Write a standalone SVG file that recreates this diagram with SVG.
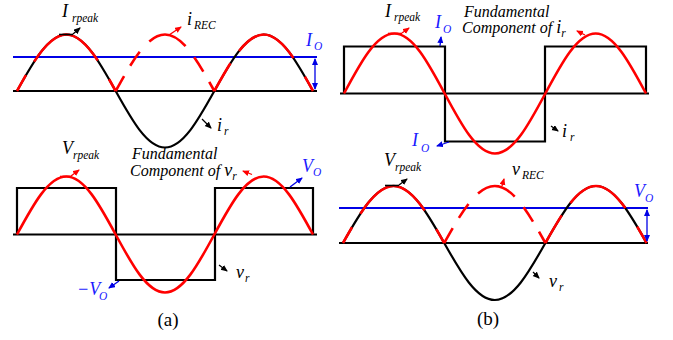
<svg xmlns="http://www.w3.org/2000/svg" width="673" height="340" viewBox="0 0 673 340">
<style>
.bg{fill:#ffffff}
.ax{fill:none;stroke:#000;stroke-width:2.2}
.bk{fill:none;stroke:#000;stroke-width:2.2;stroke-linejoin:miter}
.rd{fill:none;stroke:#ff0000;stroke-width:2.6}
.bl{fill:none;stroke:#0000e6;stroke-width:2.2}
.ar{fill:none;stroke-width:1.3}
.ak{stroke:#000}
.arr{stroke:#ff0000}
.ab{stroke:#0000e6}
.da{stroke-dasharray:18 16 86 22 16}
.db{stroke-dasharray:32 15 70 22 19}
.dm{stroke-dasharray:17 12 17 14 42 14 17 12 17}
text{font-family:'Liberation Serif','DejaVu Serif',serif;font-style:italic;font-size:16px;fill:#000}
.m{font-size:18px}
.s{font-size:11.5px}
.tb{fill:#1a1aff}
.cap{font-style:normal;font-size:19px}
</style>
<defs>
<marker id="mk" markerUnits="userSpaceOnUse" markerWidth="8" markerHeight="7" refX="6" refY="3" orient="auto-start-reverse"><path d="M0,0 L7,3 L0,6 z" fill="#000"/></marker>
<marker id="mr" markerUnits="userSpaceOnUse" markerWidth="8" markerHeight="7" refX="6" refY="3" orient="auto-start-reverse"><path d="M0,0 L7,3 L0,6 z" fill="#ff0000"/></marker>
<marker id="mb" markerUnits="userSpaceOnUse" markerWidth="8" markerHeight="7" refX="6" refY="3" orient="auto-start-reverse"><path d="M0,0 L7,3 L0,6 z" fill="#0000e6"/></marker>
</defs>
<rect class="bg" width="673" height="340"/>

<!-- Panel (a) top: i_r and i_REC -->
<g id="a-top">
<path class="bl" d="M13,57 H317"/>
<path class="ax" d="M13,91 H317"/>
<path class="bk" d="M17,91 C33.09,62.06 48.48,34.5 66.33,34.5 C84.18,34.5 99.57,62.06 115.67,91 C131.76,119.94 147.15,147.5 165,147.5 C182.85,147.5 198.24,119.94 214.33,91 C230.42,62.06 245.81,34.5 263.67,34.5 C281.52,34.5 296.91,62.06 313,91"/>
<path class="rd da" d="M17,91 C33.09,62.06 48.48,34.5 66.33,34.5 C84.18,34.5 99.57,62.06 115.67,91"/>
<path class="rd dm" d="M115.67,91 C131.76,62.06 147.15,34.5 165,34.5 C182.85,34.5 198.24,62.06 214.33,91"/>
<path class="rd db" d="M214.33,91 C230.42,62.06 245.81,34.5 263.67,34.5 C281.52,34.5 296.91,62.06 313,91"/>
<path class="ar ab" d="M315,59 V89" marker-start="url(#mb)" marker-end="url(#mb)"/>
<path class="bk" style="stroke-width:1.6" d="M59,34.5 H73"/>
<path class="ar ak" d="M73,34 L80,28" marker-end="url(#mk)"/>
<path class="ar arr" d="M169,35 L181,27" marker-end="url(#mr)"/>
<path class="ar ak" d="M202,119 L211,128" marker-end="url(#mk)"/>
<text class="m" x="62" y="17" font-family="Liberation Serif, serif">I<tspan class="s" x="72" y="22">rpeak</tspan></text>
<text class="m" x="187" y="25" font-family="Liberation Serif, serif">i<tspan class="s" x="194" y="29">REC</tspan></text>
<text class="m tb" x="306" y="46" font-family="Liberation Serif, serif">I<tspan class="s tb" x="314" y="50">O</tspan></text>
<text class="m" x="217" y="131" font-family="Liberation Serif, serif">i<tspan class="s" x="224" y="135">r</tspan></text>
</g>

<!-- Panel (a) bottom: v_r -->
<g id="a-bottom">
<path class="ax" d="M13,234.5 H317"/>
<path class="bk" d="M17,234.5 V188 H116 V280 H215 V188 H313 V234.5"/>
<path class="rd" d="M17,234.5 C33.09,204.79 48.48,176.5 66.33,176.5 C84.18,176.5 99.57,204.79 115.67,234.5 C131.76,264.21 147.15,292.5 165,292.5 C182.85,292.5 198.24,264.21 214.33,234.5 C230.42,204.79 245.81,176.5 263.67,176.5 C281.52,176.5 296.91,204.79 313,234.5"/>
<path class="rd" style="stroke-width:1.6" d="M60,176.5 H71"/>
<path class="ar arr" d="M71,176 L79,170" marker-end="url(#mr)"/>
<path class="ar arr" d="M252,174.5 L243,171" marker-end="url(#mr)"/>
<path class="ar ab" d="M290,187 L302,178" marker-end="url(#mb)"/>
<path class="ar ak" d="M219,265 L227,271" marker-end="url(#mk)"/>
<path class="ar ab" d="M119,281 L109,288" marker-end="url(#mb)"/>
<text class="m" x="62" y="154" font-family="Liberation Serif, serif">V<tspan class="s" x="73" y="159">rpeak</tspan></text>
<text x="132" y="159" font-family="Liberation Serif, serif">Fundamental</text>
<text x="130" y="176" font-family="Liberation Serif, serif">Component of <tspan class="m">v</tspan><tspan class="s" dy="4">r</tspan></text>
<text class="m tb" x="302" y="172" font-family="Liberation Serif, serif">V<tspan class="s tb" x="313" y="176">O</tspan></text>
<text class="m" x="236" y="278" font-family="Liberation Serif, serif">v<tspan class="s" x="245" y="282">r</tspan></text>
<text class="m tb" x="77" y="295" font-family="Liberation Serif, serif">−V<tspan class="s tb" x="99" y="300">O</tspan></text>
<text class="cap" x="168" y="326" text-anchor="middle" font-family="Liberation Serif, serif">(a)</text>
</g>

<!-- Panel (b) top: i_r square -->
<g id="b-top">
<path class="ax" d="M340,93.5 H649"/>
<path class="bk" d="M344,93.5 V46.5 H445 V141.5 H545 V46.5 H646 V93.5"/>
<path class="rd" d="M344,93.5 C360.41,62.76 376.12,33.5 394.33,33.5 C412.55,33.5 428.25,62.76 444.67,93.5 C461.08,124.24 476.79,153.5 495,153.5 C513.21,153.5 528.92,124.24 545.33,93.5 C561.74,62.76 577.45,33.5 595.67,33.5 C613.88,33.5 629.59,62.76 646,93.5"/>
<path class="rd" style="stroke-width:1.6" d="M388,33.5 H402"/>
<path class="ar arr" d="M402,33 L409,28" marker-end="url(#mr)"/>
<path class="ar ab" d="M440,46 L441,37" marker-end="url(#mb)"/>
<path class="ar arr" d="M585,35 L577,31" marker-end="url(#mr)"/>
<path class="ar ab" d="M449,142 L437,146" marker-end="url(#mb)"/>
<path class="ar ak" d="M551,126 L558,131" marker-end="url(#mk)"/>
<text class="m" x="385" y="17" font-family="Liberation Serif, serif">I<tspan class="s" x="394" y="21">rpeak</tspan></text>
<text class="m tb" x="435" y="28" font-family="Liberation Serif, serif">I<tspan class="s tb" x="443" y="33">O</tspan></text>
<text x="464" y="17" font-family="Liberation Serif, serif">Fundamental</text>
<text x="462" y="33" font-family="Liberation Serif, serif">Component of <tspan class="m">i</tspan><tspan class="s" dy="4">r</tspan></text>
<text class="m tb" x="412" y="146" font-family="Liberation Serif, serif">I<tspan class="s tb" x="421" y="152">O</tspan></text>
<text class="m" x="562" y="137" font-family="Liberation Serif, serif">i<tspan class="s" x="570" y="141">r</tspan></text>
</g>

<!-- Panel (b) bottom: v_r sine and v_REC -->
<g id="b-bottom">
<path class="bl" d="M339,208 H648"/>
<path class="ax" d="M339,243 H648"/>
<path class="bk" d="M343,243 C359.5,213.8 375.29,186 393.6,186 C411.91,186 427.7,213.8 444.2,243 C460.7,272.2 476.49,300 494.8,300 C513.11,300 528.9,272.2 545.4,243 C561.9,213.8 577.69,186 596,186 C614.31,186 630.1,213.8 646.6,243"/>
<path class="rd da" d="M343,243 C359.5,213.8 375.29,186 393.6,186 C411.91,186 427.7,213.8 444.2,243"/>
<path class="rd dm" d="M444.2,243 C460.7,213.8 476.49,186 494.8,186 C513.11,186 528.9,213.8 545.4,243"/>
<path class="rd db" d="M545.4,243 C561.9,213.8 577.69,186 596,186 C614.31,186 630.1,213.8 646.6,243"/>
<path class="ar ab" d="M647,210 V241" marker-start="url(#mb)" marker-end="url(#mb)"/>
<path class="bk" style="stroke-width:1.6" d="M385,185.5 H399"/>
<path class="ar ak" d="M399,185 L407,179" marker-end="url(#mk)"/>
<path class="ar arr" d="M502,186 L504,179" marker-end="url(#mr)"/>
<path class="ar ak" d="M533,272 L539,278" marker-end="url(#mk)"/>
<text class="m" x="384" y="166" font-family="Liberation Serif, serif">V<tspan class="s" x="395" y="171">rpeak</tspan></text>
<text class="m" x="512" y="175" font-family="Liberation Serif, serif">v<tspan class="s" x="522" y="179">REC</tspan></text>
<text class="m tb" x="634" y="197" font-family="Liberation Serif, serif">V<tspan class="s tb" x="645" y="202">O</tspan></text>
<text class="m" x="549" y="287" font-family="Liberation Serif, serif">v<tspan class="s" x="559" y="291">r</tspan></text>
<text class="cap" x="488" y="325" text-anchor="middle" font-family="Liberation Serif, serif">(b)</text>
</g>
</svg>
